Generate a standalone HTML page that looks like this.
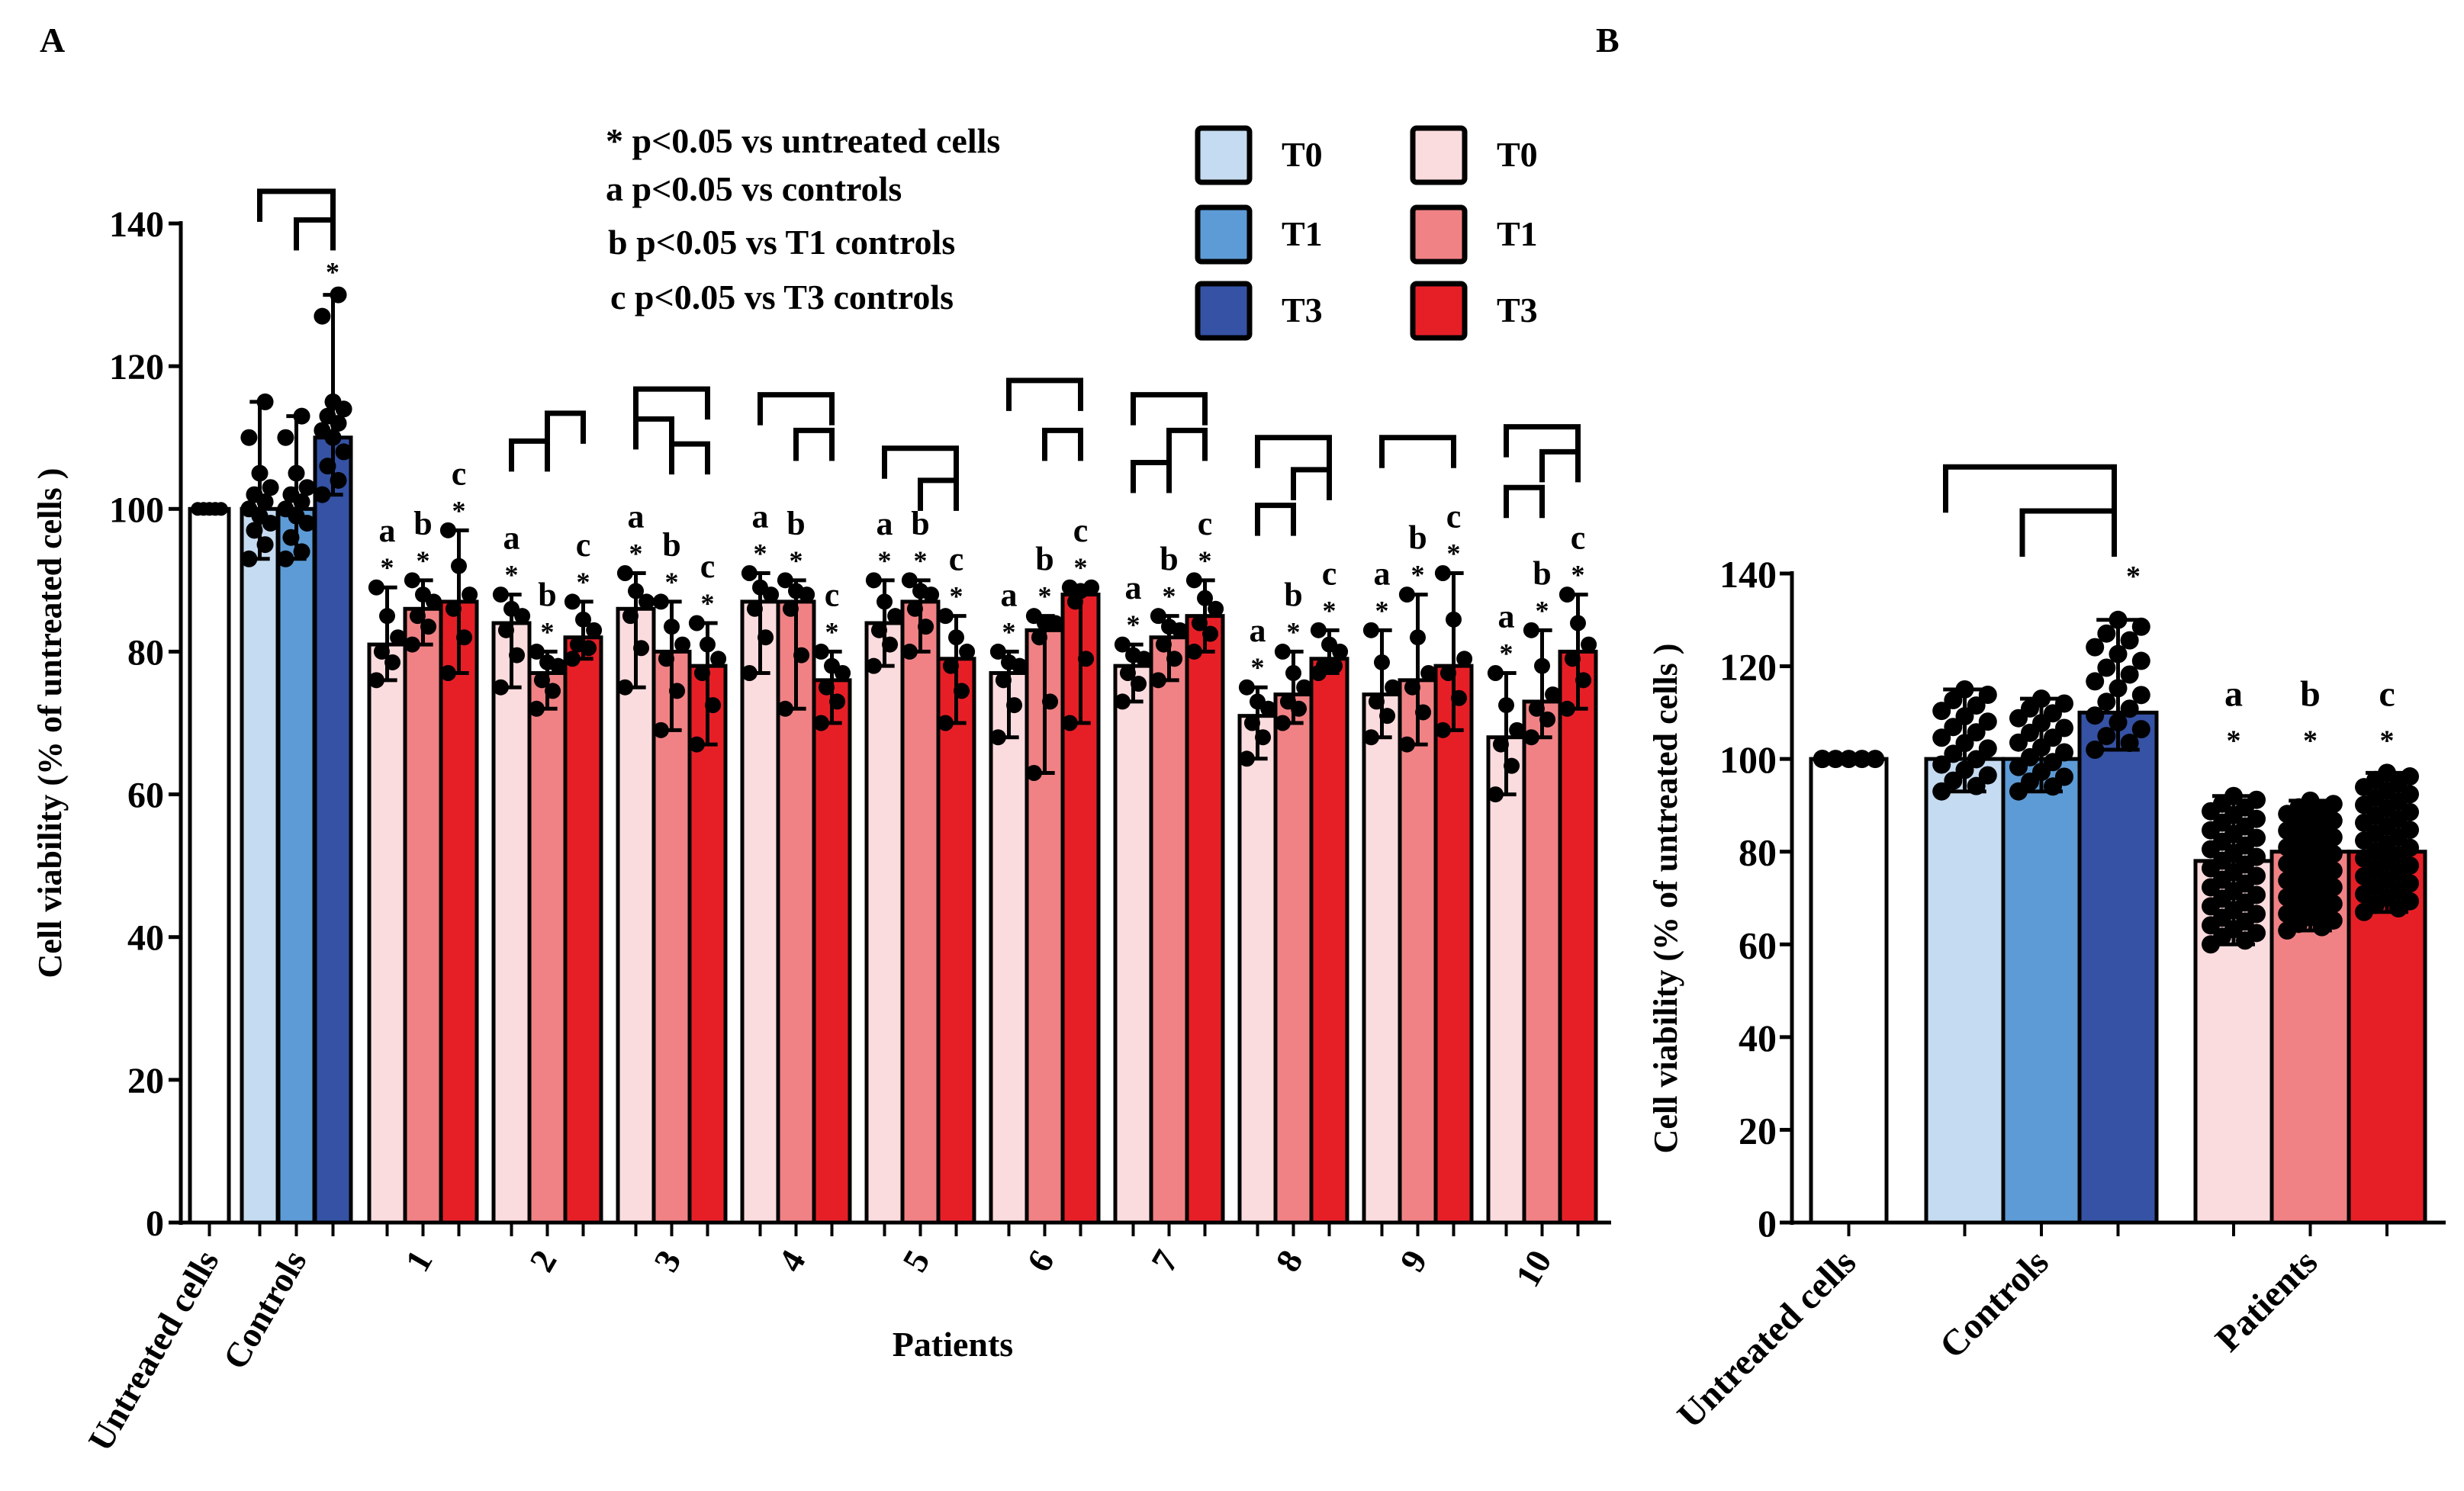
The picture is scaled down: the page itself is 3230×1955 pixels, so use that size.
<!DOCTYPE html>
<html><head><meta charset="utf-8"><style>
html,body{margin:0;padding:0;background:#fff}
svg{display:block}
text{font-family:"Liberation Serif",serif;font-weight:bold;fill:#000}
</style></head><body>
<svg id="fig" width="3230" height="1955" viewBox="0 0 3230 1955" xmlns="http://www.w3.org/2000/svg">
<text x="52" y="68" font-size="46">A</text>
<text x="2092" y="68" font-size="46">B</text>
<g font-size="46">
<text x="794" y="200">*  p&lt;0.05 vs untreated cells</text>
<text x="794" y="263">a  p&lt;0.05 vs controls</text>
<text x="797" y="333">b p&lt;0.05 vs T1 controls</text>
<text x="800" y="405">c p&lt;0.05 vs T3 controls</text>
</g>
<g id="legend"></g>
<g id="chartA"></g>
<g id="chartB"></g>
</svg>
<script>
// ---------- data ----------
const patientLabels = ["1","2","3","4","5","6","7","8","9","10"];
const seriesNames = ["T0","T1","T3"];
const untreatedMean = 100;
const controlMeans = [100, 100, 110];
const controlHi = [115, 113, 130];
const controlLo = [93, 93, 102];
const controlPoints = [
 [93,95,97,98,99,100,101,102,103,105,110,115],
 [93,94,96,98,99,100,101,102,103,105,110,113],
 [102,104,106,108,110,111,112,113,114,115,127,130]];
const pT0Mean = [81,84,86,87,84,77,78,71,74,68];
const pT1Mean = [86,77,80,87,87,83,82,74,76,73];
const pT3Mean = [87,82,78,76,79,88,85,79,78,80];
const pT0Hi = [89,88,91,91,90,80,81,75,83,77];
const pT1Hi = [90,80,87,90,90,85,85,80,88,83];
const pT3Hi = [97,87,84,80,85,89,90,83,91,88];
const pT0Lo = [76,75,75,77,78,68,73,65,68,60];
const pT1Lo = [81,72,69,72,80,63,76,70,67,68];
const pT3Lo = [77,79,67,70,70,70,80,77,69,72];
const letters = ["a","b","c"];
// brackets: [group(-1 = controls), fromBar, toBar, value]
const bracketsA = [
 [-1,0,2,144.5],[-1,1,2,140.5],
 [1,0,1,109.5],[1,1,2,113.4],
 [2,0,2,116.8],[2,0,1,112.6],[2,1,2,109.1],
 [3,0,2,116],[3,1,2,111],
 [4,0,2,108.5],[4,1,2,104],
 [5,0,2,118],[5,1,2,111],
 [6,0,2,116],[6,1,2,111],[6,0,1,106.5],
 [7,0,2,110],[7,1,2,105.5],[7,0,1,100.5],
 [8,0,2,110],
 [9,0,2,111.5],[9,1,2,108],[9,0,1,103]];
const ticksY = [0,20,40,60,80,100,120,140];
const bCats = ["Untreated cells","Controls","Patients"];
const bMeans = [100,100,100,110,78,80,80];
const bHi = [100,115,113,130,92,91,97];
const bLo = [100,93,93,102,60,63,67];

const colors = ["#fff","#c5dbf1","#5d9bd6","#3552a4","#fbdcde","#f08285","#e61f27"];
const NS="http://www.w3.org/2000/svg";
function el(tag,attrs,parent){const e=document.createElementNS(NS,tag);for(const k in attrs)e.setAttribute(k,attrs[k]);parent.appendChild(e);return e;}

// ---------- legend ----------
const lg=document.getElementById('legend');
[[1,2,3],[4,5,6]].forEach((cols,ci)=>{
 cols.forEach((c,ri)=>{
  const x=ci?1852:1570, y=[168,272,372][ri];
  const r=el('rect',{x:x,y:y,width:68,height:71,rx:5,fill:colors[c],stroke:'#000','stroke-width':7},lg);
  
  
  const t=el('text',{x:x+110,y:y+50,'font-size':46},lg);t.textContent=seriesNames[ri];
  
  
 });
});

function drawBar(g,x,w,mean,hi,lo,fill,yS,pts,name,rad,spread){
 const r=el('rect',{x:x,y:yS(mean),width:w,height:yS(0)-yS(mean),fill:fill,stroke:'#000','stroke-width':5},g);
 
 
 const cx=x+w/2;
 if(hi!==lo){
  el('line',{x1:cx,x2:cx,y1:yS(hi),y2:yS(lo),stroke:'#000','stroke-width':5},g);
  el('line',{x1:cx-w*0.28,x2:cx+w*0.28,y1:yS(hi),y2:yS(hi),stroke:'#000','stroke-width':5},g);
  el('line',{x1:cx-w*0.28,x2:cx+w*0.28,y1:yS(lo),y2:yS(lo),stroke:'#000','stroke-width':5},g);
 }
 pts.forEach((v,i)=>{
  const off=((i*3)%5-2)/2*w*spread;
  const d=el('circle',{cx:cx+off,cy:yS(v),r:rad,fill:'#000'},g);
  
  
 });
}

// ---------- chart A ----------
(function(){
 const g=document.getElementById('chartA');
 const X0=237,X1=2112,Y0=1603,Y140=293;
 const yS=v=>Y0-(Y0-Y140)*v/140;
 el('line',{x1:X0,x2:X0,y1:Y140-3,y2:Y0+3,stroke:'#000','stroke-width':5},g);
 el('line',{x1:X0,x2:X1,y1:Y0,y2:Y0,stroke:'#000','stroke-width':5},g);
 ticksY.forEach(t=>{
  el('line',{x1:X0-16,x2:X0,y1:yS(t),y2:yS(t),stroke:'#000','stroke-width':5},g);
  const tx=el('text',{x:X0-22,y:yS(t)+17,'font-size':48,'text-anchor':'end'},g);tx.textContent=t;
  
  
 });
 const yt=el('text',{x:0,y:0,'font-size':44,'text-anchor':'middle',transform:'translate(80,948) rotate(-90)'},g);
 yt.textContent='Cell viability (% of untreated cells )';
 
 
 const xt=el('text',{x:1249,y:1778,'font-size':46,'text-anchor':'middle'},g);xt.textContent='Patients';
 
 
 const centers=[];
 drawBar(g,249,51,untreatedMean,untreatedMean,untreatedMean,colors[0],yS,[100,100,100,100,100],'bar-untreated',9,0.3);
 centers.push(274.5);
 function catLabel(txt,x,name){
  const t=el('text',{x:0,y:0,'font-size':46,'text-anchor':'end',transform:`translate(${x+14},${Y0+48}) rotate(-60)`},g);
  t.textContent=txt;
 }
 catLabel('Untreated cells',274,'x-label-untreated');
 const ctrlX=c=>317+c*48;
 for(let c=0;c<3;c++){drawBar(g,ctrlX(c),47,controlMeans[c],controlHi[c],controlLo[c],colors[1+c],yS,controlPoints[c],'bar-controls-'+seriesNames[c],11,0.3);centers.push(ctrlX(c)+23.5);}
 catLabel('Controls',389,'x-label-controls');
 const s=el('text',{x:ctrlX(2)+23,y:yS(controlHi[2])-18,'font-size':36,'text-anchor':'middle','font-weight':'normal'},g);s.textContent='*';
 const means=[pT0Mean,pT1Mean,pT3Mean],his=[pT0Hi,pT1Hi,pT3Hi],los=[pT0Lo,pT1Lo,pT3Lo];
 const gx=i=>484+i*163;
 const barX=(grp,b)=>grp<0?ctrlX(b)+23.5:gx(grp)+b*47+23.5;
 patientLabels.forEach((lab,i)=>{
  for(let b=0;b<3;b++){
   const m=means[b][i],h=his[b][i],l=los[b][i];
   const pts=[l,(l+m)/2,m-1,m+1,(m+h)/2,h];
   drawBar(g,gx(i)+b*47,47,m,h,l,colors[4+b],yS,pts,'bar-patient-'+lab+'-'+seriesNames[b],10.5,0.3);
   centers.push(gx(i)+b*47+23.5);
   const cx=gx(i)+b*47+23.5;
   const st=el('text',{x:cx,y:yS(h)-14,'font-size':36,'text-anchor':'middle','font-weight':'normal'},g);st.textContent='*';
   
   const lt=el('text',{x:cx,y:yS(h)-60,'font-size':44,'text-anchor':'middle'},g);lt.textContent=letters[b];
   
  }
  catLabel(lab,gx(i)+70,'x-label-patient-'+lab);
 });
 centers.forEach(c=>el('line',{x1:c,x2:c,y1:Y0,y2:Y0+18,stroke:'#000','stroke-width':4},g));
 bracketsA.forEach(br=>{
  const x1=barX(br[0],br[1]),x2=barX(br[0],br[2]),y=yS(br[3]);
  const p=el('path',{d:`M${x1},${y+40} V${y} H${x2} V${y+40}`,fill:'none',stroke:'#000','stroke-width':7},g);
  
 });
})();

// ---------- chart B ----------
(function(){
 const g=document.getElementById('chartB');
 const X0=2349,X1=3206,Y0=1603,Y140=752;
 const yS=v=>Y0-(Y0-Y140)*v/140;
 el('line',{x1:X0,x2:X0,y1:Y140-3,y2:Y0+3,stroke:'#000','stroke-width':5},g);
 el('line',{x1:X0,x2:X1,y1:Y0,y2:Y0,stroke:'#000','stroke-width':5},g);
 ticksY.forEach(t=>{
  el('line',{x1:X0-16,x2:X0,y1:yS(t),y2:yS(t),stroke:'#000','stroke-width':5},g);
  const tx=el('text',{x:X0-20,y:yS(t)+18,'font-size':50,'text-anchor':'end'},g);tx.textContent=t;
  
 });
 const yt=el('text',{x:0,y:0,'font-size':44,'text-anchor':'middle',transform:'translate(2198,1178) rotate(-90)'},g);
 yt.textContent='Cell viability (% of untreated cells )';
 
 const xs=[2374,2525,2626,2726,2878,2978,3079];
 const ws=[99,101,100,101,100,101,100];
 const ctr=i=>xs[i]+ws[i]/2;
 bMeans.forEach((m,i)=>{
  const pts=[];
  if(i===0){for(let k=0;k<6;k++)pts.push(100);}
  else{const n=i>=4?40:20;for(let k=0;k<n;k++){pts.push(bLo[i]+(bHi[i]-bLo[i])*((k*11)%n)/(n-1));}}
  drawBar(g,xs[i],ws[i],m,bHi[i],bLo[i],colors[i],yS,pts,'bar-b-'+i,12,i===0?0.35:0.3);
  el('line',{x1:ctr(i),x2:ctr(i),y1:Y0,y2:Y0+18,stroke:'#000','stroke-width':4},g);
 });
 const s=el('text',{x:ctr(3)+20,y:yS(bHi[3])-45,'font-size':38,'text-anchor':'middle','font-weight':'normal'},g);s.textContent='*';
 for(let b=0;b<3;b++){
  const cx=ctr(4+b);
  const st=el('text',{x:cx,y:yS(Math.max(...bHi.slice(4)))-30,'font-size':38,'text-anchor':'middle','font-weight':'normal'},g);st.textContent='*';
  
  const lt=el('text',{x:cx,y:yS(Math.max(...bHi.slice(4)))-88,'font-size':48,'text-anchor':'middle'},g);lt.textContent=letters[b];
  
 }
 [[1,3,163],[2,3,153.5]].forEach(br=>{
  const y=yS(br[2]);
  const p=el('path',{d:`M${ctr(br[0])-25},${y+60} V${y} H${ctr(br[1])-5} V${y+60}`,fill:'none',stroke:'#000','stroke-width':7},g);
  
 });
 const labX=[ctr(0),ctr(2),ctr(5)];
 bCats.forEach((c,i)=>{
  const t=el('text',{x:0,y:0,'font-size':48,'text-anchor':'end',transform:`translate(${labX[i]+12},${Y0+55}) rotate(-45)`},g);
  t.textContent=c;
 });
})();
</script>
</body></html>
